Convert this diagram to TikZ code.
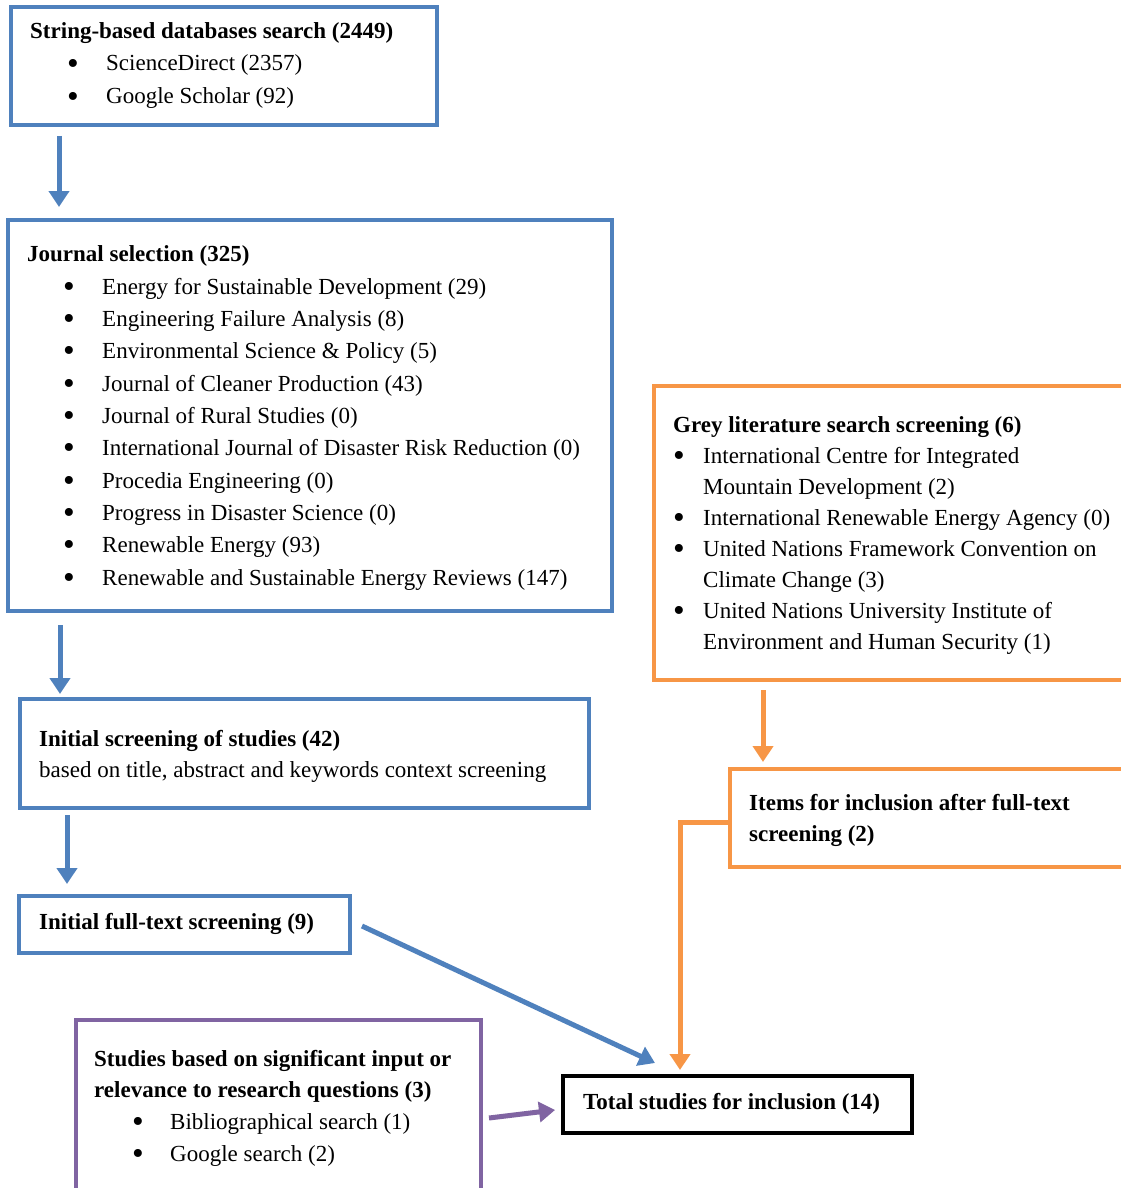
\documentclass[tikz,border=0pt]{standalone}
\usepackage{fontspec}
\setmainfont{Liberation Serif}
\usetikzlibrary{arrows.meta,calc}
\definecolor{cblue}{HTML}{4F81BD}
\definecolor{corange}{HTML}{F79646}
\definecolor{cpurple}{HTML}{8064A2}
\newcommand\mybul{\raisebox{-3.5pt}{\scalebox{1.45}{\textbullet}}}
\begin{document}
\begin{tikzpicture}[x=1pt,y=-1pt,
 txt/.style={anchor=base west,inner sep=0pt,font=\fontsize{23}{28}\selectfont},
 btxt/.style={anchor=base west,inner sep=0pt,font=\fontsize{23}{28}\selectfont\bfseries},
 bul/.style={anchor=base west,inner sep=0pt,font=\fontsize{23}{28}\selectfont},
 boxs/.style={draw,line width=3.5pt,anchor=north west,inner sep=0pt,outer sep=0pt},
 arr/.style={line width=5pt,-{Triangle[width=20pt,length=16pt]}}]
\clip (0,0) rectangle (1121,1188);
\fill[white] (0,0) rectangle (1121,1188);
% boxes
\node[boxs,cblue,minimum width=426pt,minimum height=118pt] (b1) at (11,7) {};
\node[boxs,cblue,minimum width=604pt,minimum height=391pt] (b2) at (8,220) {};
\node[boxs,cblue,minimum width=569pt,minimum height=109pt] (b3) at (20,699) {};
\node[boxs,cblue,minimum width=331pt,minimum height=57pt] (b4) at (19,896) {};
\node[boxs,cpurple,minimum width=405pt,minimum height=200pt] (b5) at (76,1020) {};
\node[boxs,black,minimum width=349pt,minimum height=57pt] (b6) at (563,1076) {};
\node[boxs,corange,minimum width=500pt,minimum height=294pt] (g1) at (654,386) {};
\node[boxs,corange,minimum width=450pt,minimum height=98pt] (g2) at (730,769) {};
% box 1 text
\node[btxt] (t1) at (30,39) {String-based databases search (2449)};
\foreach \n/\y/\s in {1/71/{ScienceDirect (2357)},2/104/{Google Scholar (92)}}{
  \node[bul] (t1b\n) at (67,\y) {\mybul};
  \node[txt] (t1i\n) at (106,\y) {\s};
}
% box 2 text
\node[btxt] (t2) at (27,261) {Journal selection (325)};
\foreach \n/\y/\s in {1/294/{Energy for Sustainable Development (29)},
  2/326/{Engineering Failure Analysis (8)},
  3/358/{Environmental Science \& Policy (5)},
  4/391/{Journal of Cleaner Production (43)},
  5/423/{Journal of Rural Studies (0)},
  6/455/{International Journal of Disaster Risk Reduction (0)},
  7/488/{Procedia Engineering (0)},
  8/520/{Progress in Disaster Science (0)},
  9/552/{Renewable Energy (93)},
  10/585/{Renewable and Sustainable Energy Reviews (147)}}{
  \node[bul] (t2b\n) at (63,\y) {\mybul};
  \node[txt] (t2i\n) at (102,\y) {\s};
}
% box 3, 4
\node[btxt] (t3) at (39,746) {Initial screening of studies (42)};
\node[txt] (t3b) at (39,777) {based on title, abstract and keywords context screening};
\node[btxt] (t4) at (39,929) {Initial full-text screening (9)};
% grey literature
\node[btxt] (tg) at (673,432) {Grey literature search screening (6)};
\foreach \n/\y in {1/463,2/525,3/556,4/618}{
  \node[bul] (tgb\n) at (673,\y) {\mybul};
}
\foreach \n/\y/\s in {1/463/{International Centre for Integrated},
  2/494/{Mountain Development (2)},
  3/525/{International Renewable Energy Agency (0)},
  4/556/{United Nations Framework Convention on},
  5/587/{Climate Change (3)},
  6/618/{United Nations University Institute of},
  7/649/{Environment and Human Security (1)}}{
  \node[txt] (tgi\n) at (703,\y) {\s};
}
\node[btxt] (th1) at (749,810) {Items for inclusion after full-text};
\node[btxt] (th2) at (749,841) {screening (2)};
% box 5
\node[btxt] (t5a) at (94,1066) {Studies based on significant input or};
\node[btxt] (t5b) at (94,1097) {relevance to research questions (3)};
\foreach \n/\y/\s in {1/1129/{Bibliographical search (1)},2/1161/{Google search (2)}}{
  \node[bul] (t5u\n) at (132,\y) {\mybul};
  \node[txt] (t5i\n) at (170,\y) {\s};
}
% box 6
\node[btxt] (t6) at (583,1109) {Total studies for inclusion (14)};
% arrows
\draw[arr,cblue,shorten <=11pt,shorten >=13pt] ($(b1.south west)+(48,0)$) -- ($(b2.north west)+(51,0)$);
\draw[arr,cblue,shorten <=14pt,shorten >=5pt] ($(b2.south west)+(52,0)$) -- ($(b3.north west)+(40,0)$);
\draw[arr,cblue,shorten <=7pt,shorten >=12pt] ($(b3.south west)+(47,0)$) -- ($(b4.north west)+(48,0)$);
\draw[arr,cblue] ($(b4.east)+(12,1.5)$) -- ($(b6.north west)+(92,-13)$);
\draw[arr,cpurple] ($(b5.east)+(8,-2)$) -- ($(b6.west)+(-8,5.5)$);
\draw[arr,corange,shorten <=10pt,shorten >=7pt] ($(g1.south west)+(109,0)$) -- ($(g2.north west)+(33,0)$);
\draw[arr,corange] ($(g2.west)+(0,4)$) -| ($(b6.north west)+(117,-6)$);
\end{tikzpicture}
\end{document}
